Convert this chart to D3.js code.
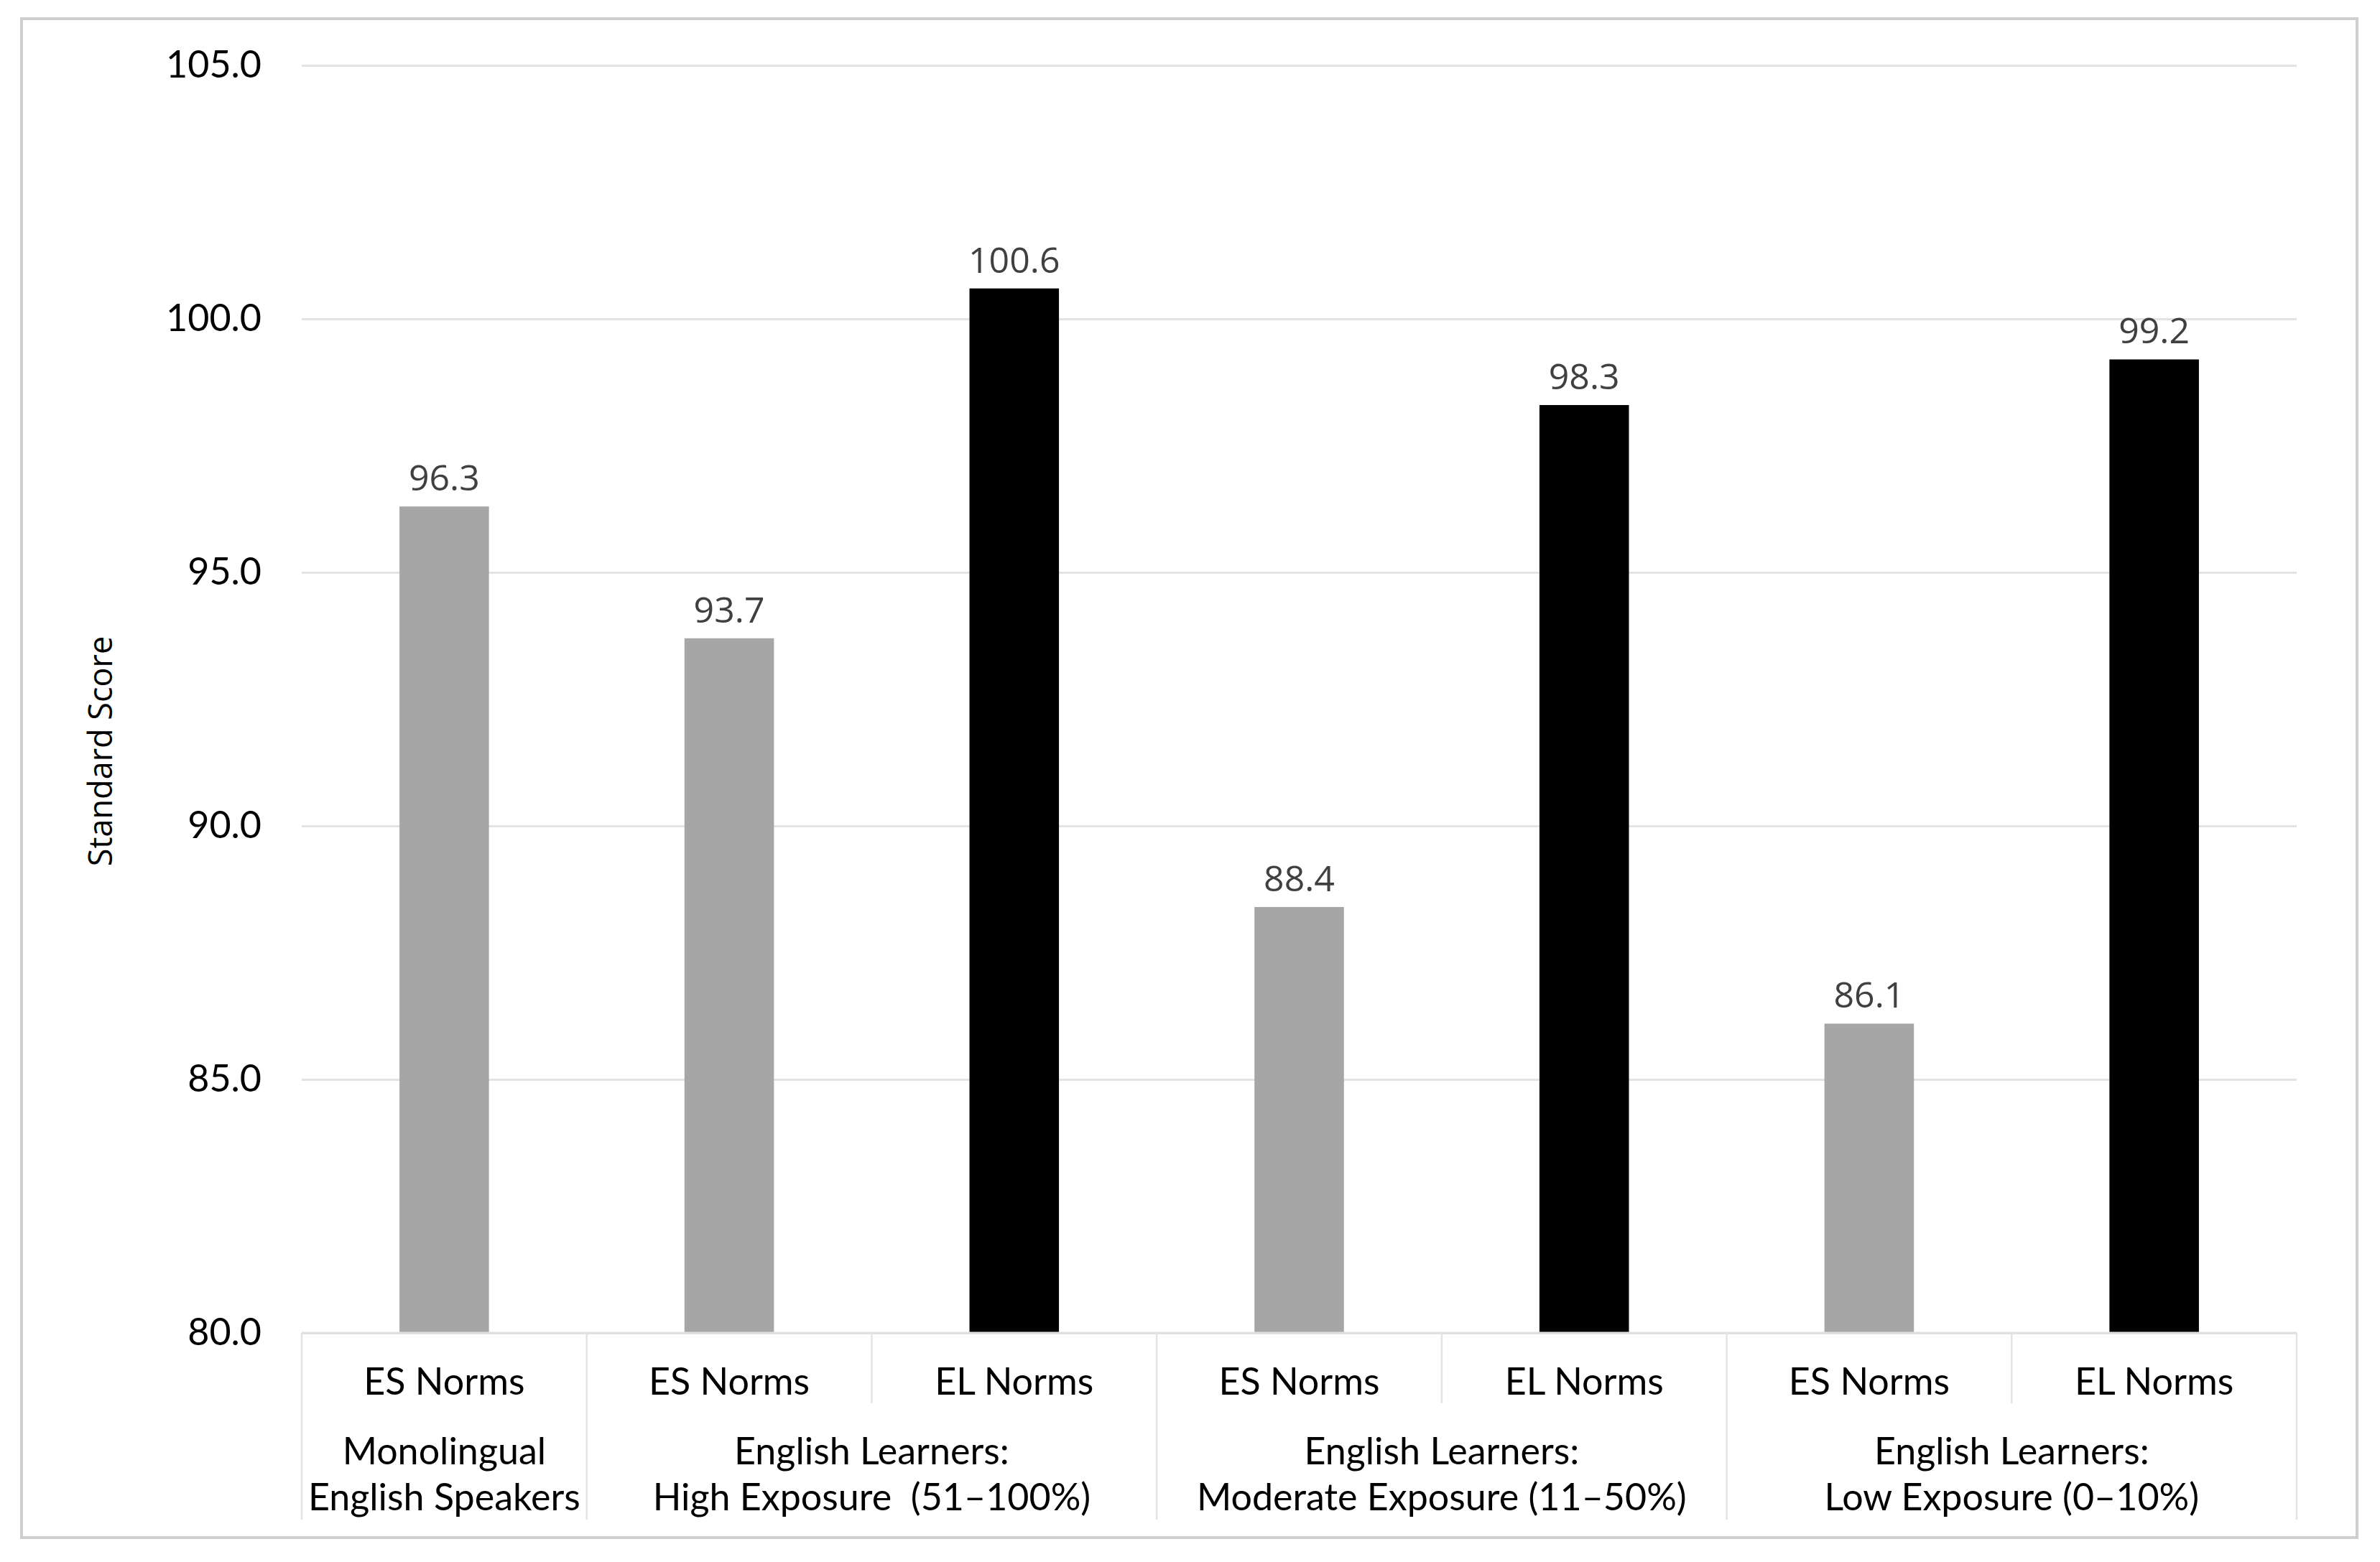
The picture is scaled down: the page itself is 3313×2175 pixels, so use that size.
<!DOCTYPE html>
<html>
<head>
<meta charset="utf-8">
<script src="https://cdn.jsdelivr.net/npm/d3@7"></script>
<style>
	body { margin: 0; background: #ffffff; }
</style>
</head>
<body>
<div id="chartbox"></div>
<script>
var WIDTH = 3313;
var HEIGHT = 2175;

var barLabels = ["ES Norms", "ES Norms", "EL Norms", "ES Norms", "EL Norms", "ES Norms", "EL Norms"];
var barValues = [96.3, 93.7, 100.6, 88.4, 98.3, 86.1, 99.2];
var groupNames = [
	["Monolingual", "English Speakers"],
	["English Learners:", "High Exposure  (51\u2013100%)"],
	["English Learners:", "Moderate Exposure (11\u201350%)"],
	["English Learners:", "Low Exposure (0\u201310%)"]
];
var groupSizes = [1, 2, 2, 2];
var yTicks = [80, 85, 90, 95, 100, 105];
var normColors = { "ES Norms": "#a6a6a6", "EL Norms": "#000000" };

var plot = { left: 420, right: 3197, top: 91, bottom: 1856 };

var svg = d3.select("#chartbox").append("svg")
	.attr("width", WIDTH)
	.attr("height", HEIGHT);

// outer frame
svg.append("rect")
	.attr("x", 30)
	.attr("y", 26)
	.attr("width", 3251)
	.attr("height", 2115)
	.attr("fill", "#ffffff")
	.attr("stroke", "#cfcfcf")
	.attr("stroke-width", 4);

var x = d3.scaleBand()
	.domain(d3.range(barValues.length))
	.range([plot.left, plot.right])
	.paddingInner(0.686)
	.paddingOuter(0.343);

var y = d3.scaleLinear()
	.domain([80, 105])
	.range([plot.bottom, plot.top]);

var step = x.step();
function slotLeft(i) {
	return x(i) - x.paddingOuter() * step;
}

// gridlines and tick labels
var yAxis = d3.axisLeft(y)
	.tickValues(yTicks)
	.tickSize(-(plot.right - plot.left))
	.tickPadding(56)
	.tickFormat(d3.format(".1f"));

var yg = svg.append("g")
	.attr("transform", "translate(" + plot.left + ",0)")
	.call(yAxis);
yg.select(".domain").remove();
yg.selectAll(".tick line")
	.attr("stroke", "#e3e3e3")
	.attr("stroke-width", 3);
yg.selectAll(".tick text")
	.attr("fill", "#000000")
	.style("font-family", "Lato, 'Open Sans', sans-serif")
	.style("font-size", "52px");

// axis title
svg.append("text")
	.attr("transform", "translate(138,1046) rotate(-90)")
	.attr("text-anchor", "middle")
	.attr("dominant-baseline", "central")
	.style("font-family", "'Open Sans', sans-serif")
	.style("font-size", "45px")
	.text("Standard Score");

// bars
svg.append("g")
	.selectAll("rect")
	.data(barValues)
	.enter().append("rect")
	.attr("x", function (d, i) { return x(i); })
	.attr("y", function (d) { return y(d); })
	.attr("width", x.bandwidth())
	.attr("height", function (d) { return y(80) - y(d); })
	.attr("fill", function (d, i) { return normColors[barLabels[i]]; });

// value labels
svg.append("g")
	.selectAll("text")
	.data(barValues)
	.enter().append("text")
	.attr("x", function (d, i) { return x(i) + x.bandwidth() / 2; })
	.attr("y", function (d) { return y(d) - 22; })
	.attr("text-anchor", "middle")
	.attr("fill", "#404040")
	.style("font-family", "'Open Sans', sans-serif")
	.style("font-size", "50px")
	.text(function (d) { return d3.format(".1f")(d); });

// category axis: baseline
svg.append("line")
	.attr("x1", plot.left)
	.attr("x2", plot.right)
	.attr("y1", plot.bottom)
	.attr("y2", plot.bottom)
	.attr("stroke", "#e0e0e0")
	.attr("stroke-width", 3);

// separators
var groupStarts = [0];
groupSizes.forEach(function (s, i) {
	groupStarts.push(groupStarts[i] + s);
});
var sepGroup = svg.append("g");
d3.range(barValues.length + 1).forEach(function (i) {
	var isGroup = groupStarts.indexOf(i) >= 0;
	var sx = i < barValues.length ? slotLeft(i) : plot.right;
	sepGroup.append("line")
		.attr("x1", sx)
		.attr("x2", sx)
		.attr("y1", plot.bottom)
		.attr("y2", isGroup ? 2116 : 1954)
		.attr("stroke", "#e3e3e3")
		.attr("stroke-width", 2.5);
});

// bar labels
svg.append("g")
	.selectAll("text")
	.data(barLabels)
	.enter().append("text")
	.attr("x", function (d, i) { return x(i) + x.bandwidth() / 2; })
	.attr("y", 1922)
	.attr("text-anchor", "middle")
	.attr("dominant-baseline", "central")
	.style("font-family", "Lato, 'Open Sans', sans-serif")
	.style("font-size", "52px")
	.text(function (d) { return d; });

// group labels
groupNames.forEach(function (lines, g) {
	var first = groupStarts[g];
	var last = groupStarts[g + 1] - 1;
	var cx = (slotLeft(first) + slotLeft(last) + step) / 2;
	lines.forEach(function (t, k) {
		svg.append("text")
			.attr("x", cx)
			.attr("y", 2019 + k * 64)
			.attr("text-anchor", "middle")
			.attr("dominant-baseline", "central")
			.style("white-space", "pre")
			.style("font-family", "Lato, 'Open Sans', sans-serif")
			.style("font-size", "52px")
			.text(t);
	});
});
</script>
</body>
</html>
